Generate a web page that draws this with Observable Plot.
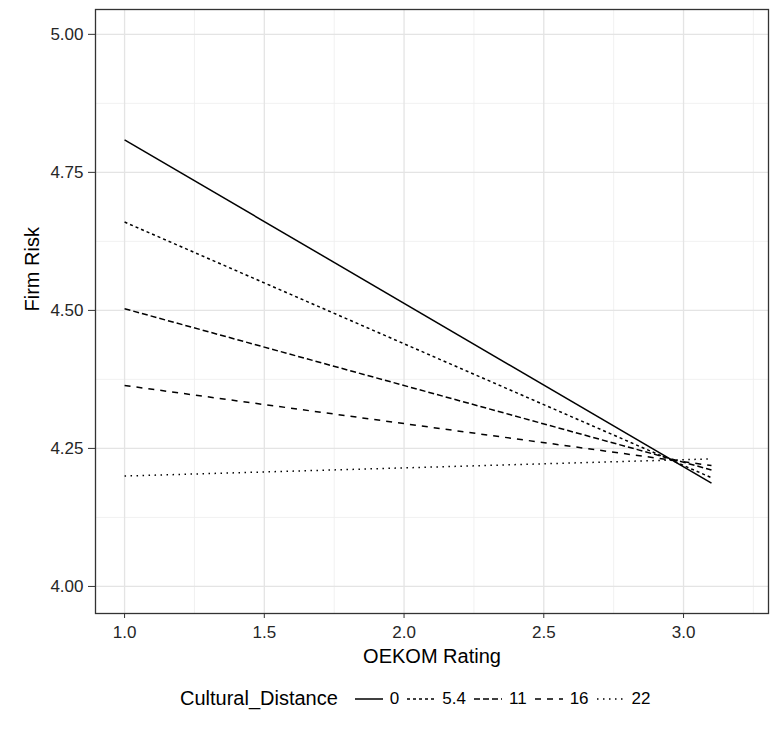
<!DOCTYPE html>
<html><head><meta charset="utf-8">
<script src="https://cdn.jsdelivr.net/npm/d3@7"></script>
<script src="https://cdn.jsdelivr.net/npm/@observablehq/plot@0.6"></script>
<style>
body{margin:0;background:#fff;font-family:"Liberation Sans",Arial,Helvetica,sans-serif;}
#chart{width:771px;height:732px;overflow:hidden;}
#legend{height:67px;box-sizing:border-box;padding-top:0px;padding-left:180px;display:flex;align-items:center;color:#000;}
#legend .title{font-size:20px;margin-right:17px;}
#legend .lab{font-size:17px;margin-left:7px;margin-right:8px;}
#legend svg{display:block;}
</style></head><body><div id="chart"></div>
<script>
// Data
const culturalDistance = ["0", "5.4", "11", "16", "22"];
const oekomRating = [1.0, 3.1];
const riskAtLowRating = [4.809, 4.660, 4.503, 4.364, 4.200];
const riskAtHighRating = [4.187, 4.197, 4.211, 4.219, 4.231];
const dashPatterns = ["none", "3,3", "6,3", "6,6", "1.5,4.5"];
const xTicks = [1.0, 1.5, 2.0, 2.5, 3.0];
const xMinor = [1.25, 1.75, 2.25, 2.75, 3.25];
const yTicks = [4.00, 4.25, 4.50, 4.75, 5.00];
const yMinor = [4.125, 4.375, 4.625, 4.875];

const rows = culturalDistance.flatMap((cd, i) => [
  {cd, rating: oekomRating[0], risk: riskAtLowRating[i]},
  {cd, rating: oekomRating[1], risk: riskAtHighRating[i]}
]);

const plot = Plot.plot({
  width: 771, height: 665,
  marginLeft: 95, marginRight: 3, marginTop: 9, marginBottom: 52,
  style: {fontFamily: "Liberation Sans, Arial, sans-serif", background: "#fff", overflow: "visible"},
  x: {domain: [0.896, 3.304]},
  y: {domain: [3.951, 5.045]},
  marks: [
    Plot.gridX(xMinor, {stroke: "#ededed", strokeOpacity: 1, strokeWidth: 0.8}),
    Plot.gridY(yMinor, {stroke: "#ededed", strokeOpacity: 1, strokeWidth: 0.8}),
    Plot.gridX(xTicks, {stroke: "#e4e4e4", strokeOpacity: 1, strokeWidth: 1.3}),
    Plot.gridY(yTicks, {stroke: "#e4e4e4", strokeOpacity: 1, strokeWidth: 1.3}),
    ...culturalDistance.map((cd, i) => Plot.line(rows.filter(r => r.cd === cd), {
      x: "rating", y: "risk", stroke: "#000", strokeWidth: 1.5,
      strokeDasharray: dashPatterns[i], strokeLinecap: "butt"
    })),
    Plot.frame({stroke: "#333", strokeWidth: 1.3}),
    Plot.axisX(xTicks, {tickSize: 5, tickPadding: 7, tickFormat: d3.format(".1f"), fontSize: 17, stroke: "#333", fill: "#262626", label: null}),
    Plot.axisY(yTicks, {tickSize: 7, tickPadding: 5, tickFormat: d3.format(".2f"), fontSize: 17, stroke: "#333", fill: "#262626", label: null}),
    Plot.text(["OEKOM Rating"], {frameAnchor: "bottom", lineAnchor: "middle", dy: 43, fontSize: 20, fill: "#000"}),
    Plot.text(["Firm Risk"], {frameAnchor: "left", rotate: -90, lineAnchor: "middle", dx: -63, fontSize: 20, fill: "#000"})
  ]
});
document.getElementById("chart").appendChild(plot);

// Legend below the plot
const legend = d3.select("#chart").append("div").attr("id", "legend");
legend.append("span").attr("class", "title").text("Cultural_Distance");
culturalDistance.forEach((cd, i) => {
  const s = legend.append("svg").attr("width", 28).attr("height", 20);
  s.append("line").attr("x1", 0).attr("x2", 28).attr("y1", 10).attr("y2", 10)
    .attr("stroke", "#000").attr("stroke-width", 1.5)
    .attr("stroke-dasharray", dashPatterns[i]);
  legend.append("span").attr("class", "lab").text(cd);
});
</script></body></html>
